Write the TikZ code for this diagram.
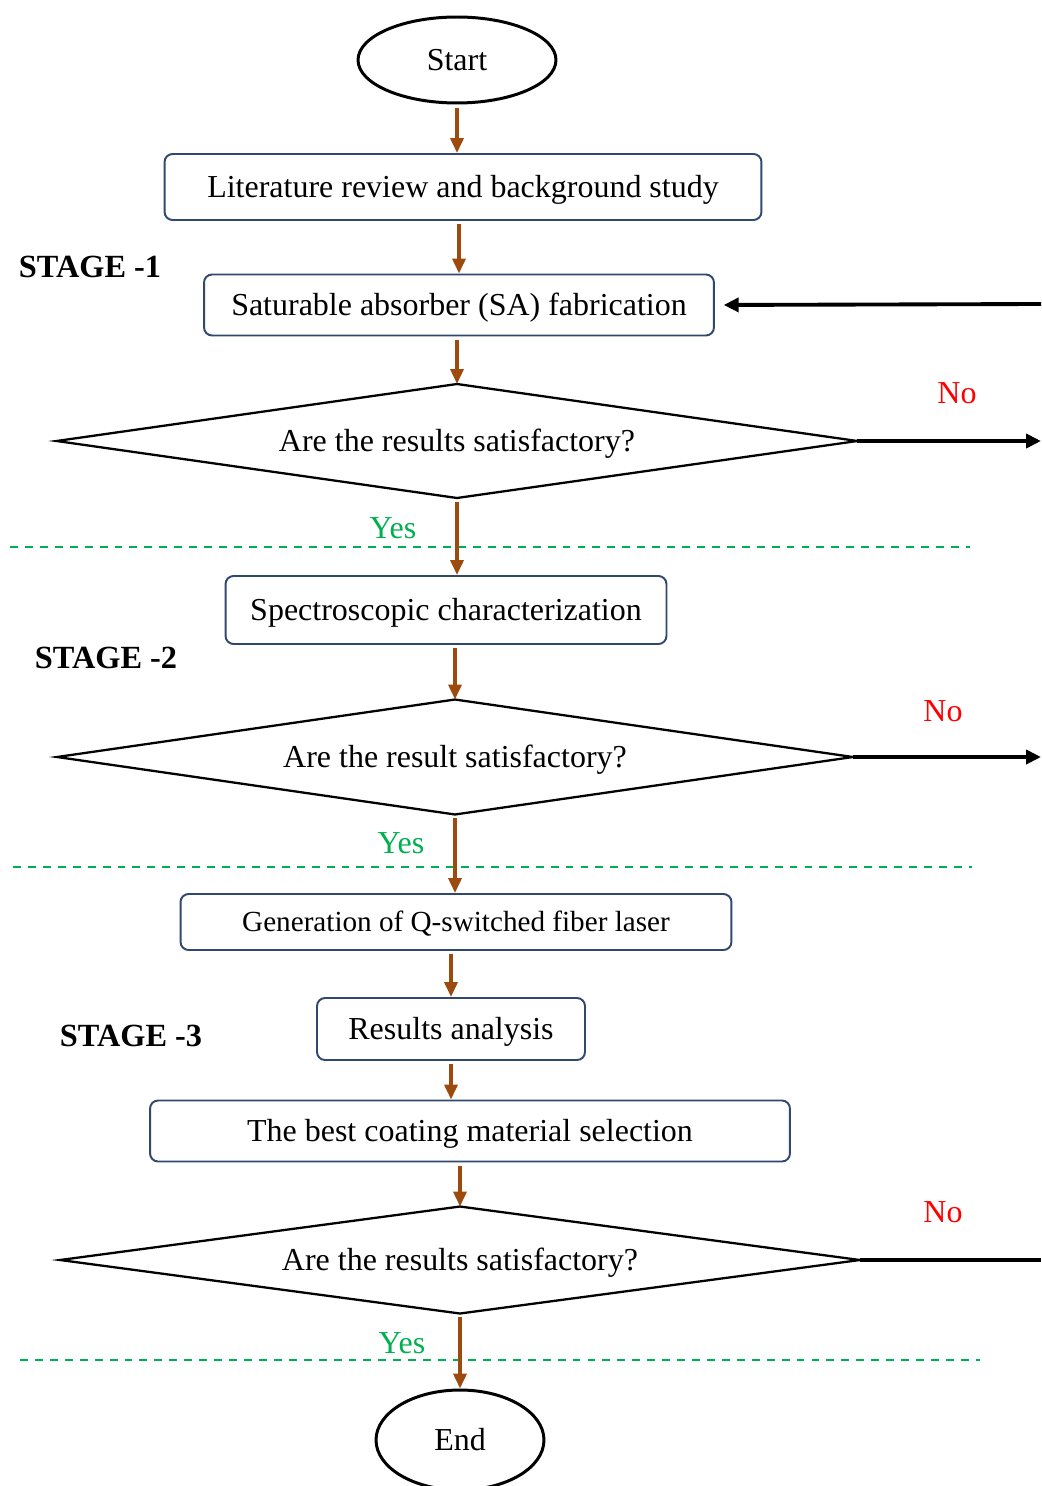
\documentclass[tikz,border=0pt]{standalone}
\usepackage{fontspec}
\setmainfont{Liberation Serif}
\usetikzlibrary{shapes.geometric}
\usetikzlibrary{arrows.meta}
\definecolor{flowbrown}{RGB}{156,74,14}
\definecolor{boxblue}{RGB}{47,72,110}
\definecolor{yesgreen}{RGB}{0,176,80}

\begin{document}
\begin{tikzpicture}[x=0.02cm, y=-0.02cm, font=\fontsize{18.2}{21}\selectfont,
  terminal/.style={draw, ellipse, line width=1.7pt, inner sep=0pt},
  stepbox/.style={draw=boxblue, line width=1.1pt, rounded corners=0.16cm, inner sep=0pt, text height=16pt, text depth=4pt},
  decision/.style={draw, diamond, line width=1.3pt, inner sep=0pt, outer sep=0pt, text height=16pt, text depth=4pt},
  flow/.style={flowbrown, line width=2pt, shorten <=2pt, -{Triangle[length=0.3cm, width=0.26cm]}},
  noflow/.style={line width=2.2pt, -{Triangle[length=0.3cm, width=0.28cm]}},
  stage/.style={font=\fontsize{18.4}{21}\selectfont\bfseries},
  divider/.style={yesgreen, line width=1pt, dash pattern=on 4.5pt off 4pt}]
  \useasboundingbox (0,0) rectangle (1041,1486);
  % stage 1
  \node[terminal, minimum width=3.96cm, minimum height=1.72cm] (start) at (457,60) {Start};
  \node[stepbox, minimum width=11.94cm, minimum height=1.32cm] (lit) at (463,187) {Literature review and background study};
  \node[stepbox, minimum width=10.2cm, minimum height=1.22cm] (sa) at (459,305) {Saturable absorber (SA) fabrication};
  \node[decision, aspect=7.03, minimum width=16.02cm, minimum height=2.28cm] (d1) at (457,441) {Are the results satisfactory?};
  \node[stage] (stage1) at (90,267) {STAGE -1};
  % stage 2
  \node[stepbox, minimum width=8.82cm, minimum height=1.36cm] (spec) at (446,610) {Spectroscopic characterization};
  \node[decision, aspect=6.92, minimum width=15.92cm, minimum height=2.3cm] (d2) at (455,757) {Are the result satisfactory?};
  \node[stage] (stage2) at (106,658) {STAGE -2};
  % stage 3
  \node[stepbox, minimum width=11.02cm, minimum height=1.12cm, font=\fontsize{16.6}{20}\selectfont, text height=14.6pt, text depth=3.6pt] (gen) at (456,922) {Generation of Q-switched fiber laser};
  \node[stepbox, minimum width=5.36cm, minimum height=1.24cm] (res) at (451,1029) {Results analysis};
  \node[stepbox, minimum width=12.8cm, minimum height=1.22cm] (best) at (470,1131) {The best coating material selection};
  \node[decision, aspect=7.48, minimum width=16cm, minimum height=2.14cm] (d3) at (460,1260) {Are the results satisfactory?};
  \node[stage] (stage3) at (131,1036) {STAGE -3};
  \node[terminal, minimum width=3.36cm, minimum height=2cm] (end) at (460,1440) {End};
  % yes / no labels
  \node[text=yesgreen] (yes1) at (393,528) {Yes};
  \node[text=yesgreen] (yes2) at (401,843) {Yes};
  \node[text=yesgreen] (yes3) at (402,1343) {Yes};
  \node[text=red] (no1) at (957,393) {No};
  \node[text=red] (no2) at (943,711) {No};
  \node[text=red] (no3) at (943,1212) {No};
  % stage dividers
  \draw[divider] (10,547) -- (970,547);
  \draw[divider] (13,867) -- (972,867);
  \draw[divider] (20,1360) -- (980,1360);
  % main flow
  \draw[flow] (start.south) -- (start.south |- lit.north);
  \draw[flow] (lit.south -| sa.north) -- (sa.north);
  \draw[flow] (sa.south -| d1.north) -- (d1.north);
  \draw[flow] (d1.south) -- (d1.south |- spec.north);
  \draw[flow] (spec.south -| d2.north) -- (d2.north);
  \draw[flow] (d2.south) -- (d2.south |- gen.north);
  \draw[flow] (gen.south -| res.north) -- (res.north);
  \draw[flow] (res.south) -- (res.south |- best.north);
  \draw[flow] (best.south -| d3.north) -- (d3.north);
  \draw[flow] (d3.south) -- (end.north);
  % feedback lines off the right edge
  \coordinate (back) at (1041,304);
  \coordinate (out1) at (1041,441);
  \coordinate (out2) at (1041,757);
  \coordinate (out3) at (1041,1260);
  \draw[noflow, shorten >=5pt] (back) -- (sa.east);
  \draw[noflow] (d1.east) -- (out1);
  \draw[noflow] (d2.east) -- (out2);
  \draw[line width=2.2pt] (d3.east) -- (out3);
\end{tikzpicture}
\end{document}
